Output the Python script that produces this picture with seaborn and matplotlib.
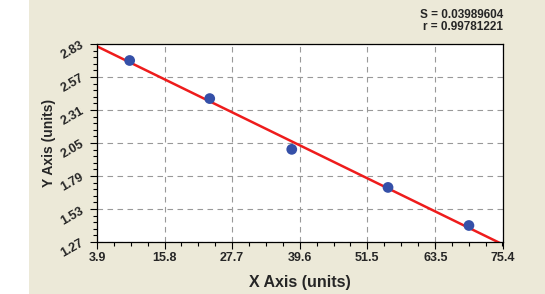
import numpy as np
import pandas as pd
import matplotlib
matplotlib.use("Agg")
import matplotlib.pyplot as plt
from matplotlib.ticker import AutoMinorLocator
import seaborn as sns

x_vals = [9.65, 23.75, 38.2, 55.15, 69.4]
y_vals = [2.70, 2.40, 2.00, 1.70, 1.40]
x_ticks = [3.9, 15.8, 27.7, 39.6, 51.5, 63.5, 75.4]
y_ticks = [1.27, 1.53, 1.79, 2.05, 2.31, 2.57, 2.83]
stats_text = ["S = 0.03989604", "r = 0.99781221"]

sns.set_style("white")
plt.rcParams['font.family'] = ['Liberation Sans', 'DejaVu Sans']

bg = "#ECE9D8"
fig = plt.figure(figsize=(5.45, 2.94), dpi=100, facecolor=bg)
fig.patches.append(plt.Rectangle((0, 0), 29 / 545, 1, transform=fig.transFigure,
                                 facecolor="white", edgecolor="none", zorder=0))
ax = fig.add_axes([97 / 545, 52 / 294, 406 / 545, 198 / 294])
ax.set_facecolor("white")

df = pd.DataFrame({"x": x_vals, "y": y_vals})
ax.set_xlim(x_ticks[0], x_ticks[-1])
ax.set_ylim(y_ticks[0], y_ticks[-1])
sns.regplot(data=df, x="x", y="y", ax=ax, ci=None, truncate=False,
            scatter_kws=dict(s=60, color="#3550A8", edgecolor="none", alpha=1, zorder=3),
            line_kws=dict(color="#EE1C1C", lw=1.8, zorder=2, clip_on=True))
ax.set_xlim(x_ticks[0], x_ticks[-1])
ax.set_ylim(y_ticks[0], y_ticks[-1])

ax.set_xticks(x_ticks)
ax.set_yticks(y_ticks)
ax.set_xticklabels([f"{v:.1f}" for v in x_ticks], fontsize=9, fontweight="bold")
ax.set_yticklabels([f"{v:.2f}" for v in y_ticks], fontsize=9, fontweight="bold", rotation=30)
ax.xaxis.set_minor_locator(AutoMinorLocator(4))
ax.yaxis.set_minor_locator(AutoMinorLocator(5))
ax.tick_params(axis="both", which="major", direction="out", length=5, width=0.8,
               color="black", bottom=True, left=True, pad=2)
ax.tick_params(axis="y", which="major", pad=3)
ax.tick_params(axis="both", which="minor", direction="out", length=3, width=0.8,
               color="black", bottom=True, left=True)
ax.grid(True, which="major", linestyle=(0, (5, 4)), color="#999999", lw=0.8)
for sp in ax.spines.values():
    sp.set_color("black")
    sp.set_linewidth(0.9)

ax.set_xlabel("X Axis (units)", fontsize=11.5, fontweight="bold", labelpad=8)
ax.set_ylabel("Y Axis (units)", fontsize=10, fontweight="bold", labelpad=2)

fig.text(503 / 545, 1 - 15 / 294, stats_text[0], ha="right", va="center",
         fontsize=8.5, fontweight="bold")
fig.text(503 / 545, 1 - 27 / 294, stats_text[1], ha="right", va="center",
         fontsize=8.5, fontweight="bold")

fig.savefig("out.png", dpi=100, facecolor=bg)
